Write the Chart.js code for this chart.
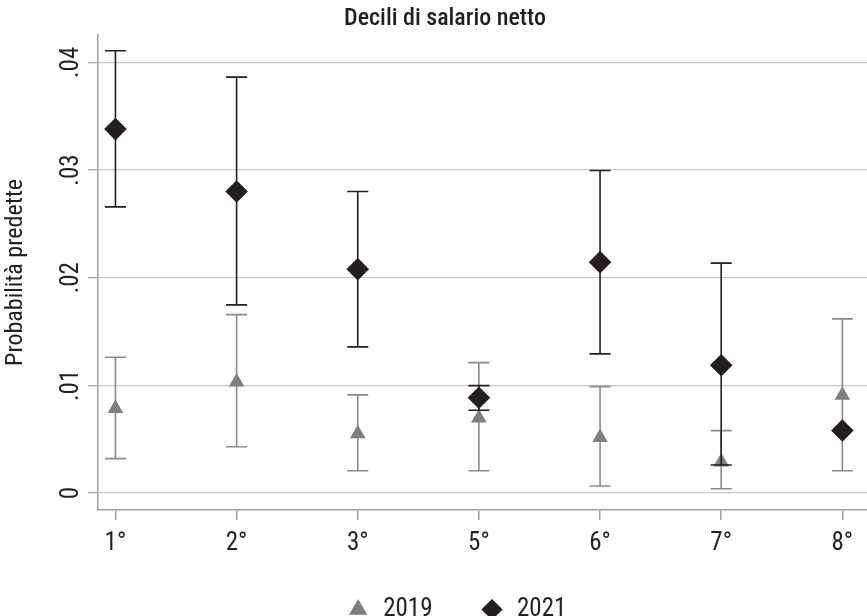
<!DOCTYPE html>
<html>
<head>
<meta charset="utf-8">
<script src="https://cdn.jsdelivr.net/npm/chart.js@4.4.1/dist/chart.umd.min.js"></script>
<style>
  html, body { margin: 0; padding: 0; background: #fff; overflow: hidden; }
  #wrap { width: 890px; height: 616px; }
</style>
</head>
<body>
<div id="wrap"><canvas id="c" width="890" height="616"></canvas></div>
<script>
// ---- data ----
const categories = ['1°', '2°', '3°', '5°', '6°', '7°', '8°'];
const yTickLabels = ['0', '.01', '.02', '.03', '.04'];

const p2019  = [0.00785, 0.01032, 0.00551, 0.00697, 0.00516, 0.00288, 0.00908];
const lo2019 = [0.00319, 0.00430, 0.00207, 0.00207, 0.00065, 0.00040, 0.00207];
const hi2019 = [0.01261, 0.01657, 0.00911, 0.01211, 0.00988, 0.00579, 0.01617];

const p2021  = [0.03380, 0.02800, 0.02079, 0.00885, 0.02144, 0.01187, 0.00581];
const lo2021 = [0.02658, 0.01747, 0.01357, 0.00769, 0.01292, 0.00260, null];
const hi2021 = [0.04108, 0.03863, 0.02800, 0.00997, 0.02995, 0.02135, null];

const FAMILY = "Roboto, 'Liberation Sans', sans-serif";
const TXT = '#231f20';
const fnt = (size, w) => ({ family: FAMILY, size: size, weight: (w || '400') + ' condensed' });

const errorBars = {
  id: 'errorBars',
  beforeDatasetDraw(chart, args) {
    const ds = chart.data.datasets[args.index];
    if (!ds.errLo) return;
    const xs = chart.scales.x, ys = chart.scales.y, ctx = chart.ctx;
    ctx.save();
    ctx.strokeStyle = ds.errColor;
    ctx.lineWidth = 1.6;
    ds.data.forEach((p, i) => {
      const lo = ds.errLo[i], hi = ds.errHi[i];
      if (lo == null || hi == null) return;
      const x = xs.getPixelForValue(p.x);
      const y1 = ys.getPixelForValue(lo), y2 = ys.getPixelForValue(hi);
      const cw = 10.5;
      ctx.beginPath();
      ctx.moveTo(x, y1); ctx.lineTo(x, y2);
      ctx.moveTo(x - cw, y1); ctx.lineTo(x + cw, y1);
      ctx.moveTo(x - cw, y2); ctx.lineTo(x + cw, y2);
      ctx.stroke();
    });
    ctx.restore();
  }
};

// nudge the legend row to the right, as in the reference
const legendShift = {
  id: 'legendShift',
  afterLayout(chart) {
    if (chart.legend) { chart.legend.left += 11; chart.legend.right += 11; }
  }
};

const toPts = arr => arr.map((v, i) => ({ x: i + 1, y: v }));

new Chart(document.getElementById('c'), {
  type: 'scatter',
  data: {
    datasets: [
      {
        label: '2019',
        data: toPts(p2019),
        errLo: lo2019, errHi: hi2019, errColor: '#8a8a8a',
        pointStyle: 'triangle',
        pointRadius: 9,
        backgroundColor: '#7f7f7f',
        borderColor: '#7f7f7f',
        borderWidth: 0,
        order: 2
      },
      {
        label: '2021',
        data: toPts(p2021),
        errLo: lo2021, errHi: hi2021, errColor: '#231f20',
        pointStyle: 'rectRot',
        pointRadius: 11.3,
        backgroundColor: '#231f20',
        borderColor: '#231f20',
        borderWidth: 0,
        order: 1
      }
    ]
  },
  options: {
    responsive: false,
    animation: false,
    layout: { padding: { left: 0, right: 0, top: 0, bottom: -16 } },
    plugins: {
      title: {
        display: true,
        text: 'Decili di salario netto',
        color: TXT,
        font: fnt(24, '500'),
        padding: { top: 5, bottom: 1 }
      },
      legend: {
        position: 'bottom',
        labels: {
          usePointStyle: true,
          boxHeight: 15,
          padding: 47,
          color: TXT,
          font: fnt(25),
          sort: (a, b) => a.datasetIndex - b.datasetIndex
        }
      },
      tooltip: { enabled: false }
    },
    scales: {
      x: {
        type: 'linear',
        min: 0.856,
        max: 7.30,
        ticks: {
          stepSize: 1,
          includeBounds: false,
          color: TXT,
          padding: 9,
          maxRotation: 0,
          font: fnt(25),
          callback: v => categories[v - 1] ?? ''
        },
        grid: { drawOnChartArea: false, drawTicks: true, tickLength: 10, color: '#a0a0a0', lineWidth: 1.5 },
        border: { display: true, color: '#a0a0a0', width: 1.5 },
        afterFit: s => { s.height = 40; s.paddingLeft = 0; s.paddingRight = 0; }
      },
      y: {
        min: -0.00158,
        max: 0.04256,
        ticks: {
          stepSize: 0.01,
          includeBounds: false,
          minRotation: 90,
          maxRotation: 90,
          crossAlign: 'center',
          padding: 1,
          color: TXT,
          font: fnt(25),
          callback: v => yTickLabels[Math.round(v * 100)] ?? ''
        },
        grid: { color: '#c8c8c8', lineWidth: 1.3, tickLength: 10, tickColor: '#a8a8a8' },
        border: { display: true, color: '#a0a0a0', width: 1.5 },
        title: {
          display: true,
          text: 'Probabilità predette',
          color: TXT,
          font: fnt(24),
          padding: { top: 2, bottom: 0 }
        },
        afterFit: s => { s.width = 98; s.paddingTop = 0; s.paddingBottom = 0; }
      }
    }
  },
  plugins: [errorBars, legendShift]
});
</script>
</body>
</html>
